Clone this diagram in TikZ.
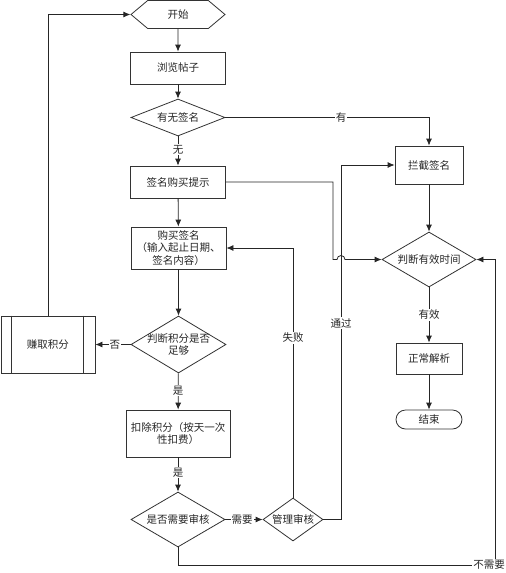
\documentclass[tikz,border=0pt]{standalone}
\usepackage{fontspec}
\setmainfont{Noto Sans CJK SC}
\usetikzlibrary{shapes.geometric,shapes.misc,shapes.symbols,arrows.meta}
\begin{document}
\begin{tikzpicture}[x=1pt,y=-1pt,
  font=\fontsize{10.5}{13}\selectfont,
  every node/.style={text=black!85},
  box/.style={draw=black!80, line width=0.8pt, rectangle, minimum width=95pt, minimum height=32pt, inner sep=1pt, align=center},
  dia/.style={draw=black!80, line width=0.8pt, diamond, inner sep=0pt},
  hexa/.style={draw=black!80, line width=0.8pt, signal, signal to=west and east, signal pointer angle=80, minimum width=94pt, minimum height=28pt, inner sep=0pt},
  term/.style={draw=black!80, line width=0.8pt, rounded rectangle, minimum width=66pt, minimum height=19pt, inner sep=0pt},
  conn/.style={draw=black!85, line width=0.8pt, -{Latex[length=7pt,width=6pt]}},
  plain/.style={draw=black!85, line width=0.8pt},
  lbl/.style={fill=white, inner sep=1pt}
]
\useasboundingbox (0,0) rectangle (506,573);

% nodes
\node[hexa] (start) at (178,14.5) {开始};
\node[box] (browse) at (178,68) {浏览帖子};
\node[dia, minimum width=94pt, minimum height=37pt, label=center:{有无签名}] (q1) at (178,117.5) {};
\node[box] (tip) at (178,182) {签名购买提示};
\node[box, minimum height=42pt, inner sep=0pt, font=\fontsize{10.5}{12.5}\selectfont] (buy) at (178.5,248) {购买签名\\（输入起止日期、\\签名内容）};
\node[dia, minimum width=95pt, minimum height=57pt, label={[align=center, font=\fontsize{10.5}{12.5}\selectfont]center:{判断积分是否\\足够}}] (judge) at (178.5,344.5) {};
\node[box, minimum width=94pt, minimum height=57pt] (earn) at (48,344.5) {赚取积分};
\draw[draw=black!80, line width=0.8pt] ([xshift=11pt]earn.north west) -- ([xshift=11pt]earn.south west)
  ([xshift=-12pt]earn.north east) -- ([xshift=-12pt]earn.south east);
\node[box, minimum width=104pt, minimum height=47pt, font=\fontsize{10.5}{12.5}\selectfont] (deduct) at (178,433.5) {扣除积分（按天一次\\性扣费）};
\node[dia, minimum width=94pt, minimum height=55pt, label=center:{是否需要审核}] (review) at (178,519.5) {};
\node[dia, minimum width=60pt, minimum height=43pt, label=center:{管理审核}] (mgr) at (293,519.5) {};
\node[box, minimum width=68pt, minimum height=38pt] (intercept) at (429,165) {拦截签名};
\node[dia, minimum width=94pt, minimum height=55pt, label=center:{判断有效时间}] (time) at (429,259.5) {};
\node[box, minimum width=66pt, minimum height=31pt] (normal) at (429,358.5) {正常解析};
\node[term] (end) at (429,419.5) {结束};

% connectors
\draw[conn] (start) -- (browse);
\draw[conn] (browse) -- (q1);
\draw[conn] (q1) -- node[lbl, pos=0.45] {无} (tip);
\draw[conn] (q1.east) -| node[lbl, pos=0.284] {有} (intercept.north);
\draw[conn] (tip.east) -| (333,259.5) -- (337,259.5) arc (180:360:4) -- (time.west);
\draw[conn] (tip) -- (buy);
\draw[conn] (buy) -- (judge);
\draw[conn] (judge.west) -- node[lbl, pos=0.45] {否} (earn.east);
\draw[conn] (earn.north) |- (start.west);
\draw[conn] (judge) -- node[lbl, pos=0.48] {是} (deduct);
\draw[conn] (deduct) -- node[lbl, pos=0.45] {是} (review);
\draw[conn] (review.east) -- node[lbl, pos=0.45] {需要} (mgr.west);
\draw[conn] (mgr.north) |- node[lbl, pos=0.32] {失败} (buy.east);
\coordinate (passc) at (341,519.5);
\draw[conn] (mgr.east) -- (passc) |- node[lbl, pos=0.277] {通过} (intercept.west);
\draw[conn] (intercept) -- (time);
\draw[conn] (time) -- node[lbl, pos=0.5] {有效} (normal);
\draw[conn] (normal) -- (end);
\coordinate (bl) at (178,565);
\coordinate (br) at (495,565);
\draw[conn] (review.south) -- (bl) -- (br) |- (time.east);
\node[lbl] (nolbl) at (489,565) {不需要};
\end{tikzpicture}
\end{document}
